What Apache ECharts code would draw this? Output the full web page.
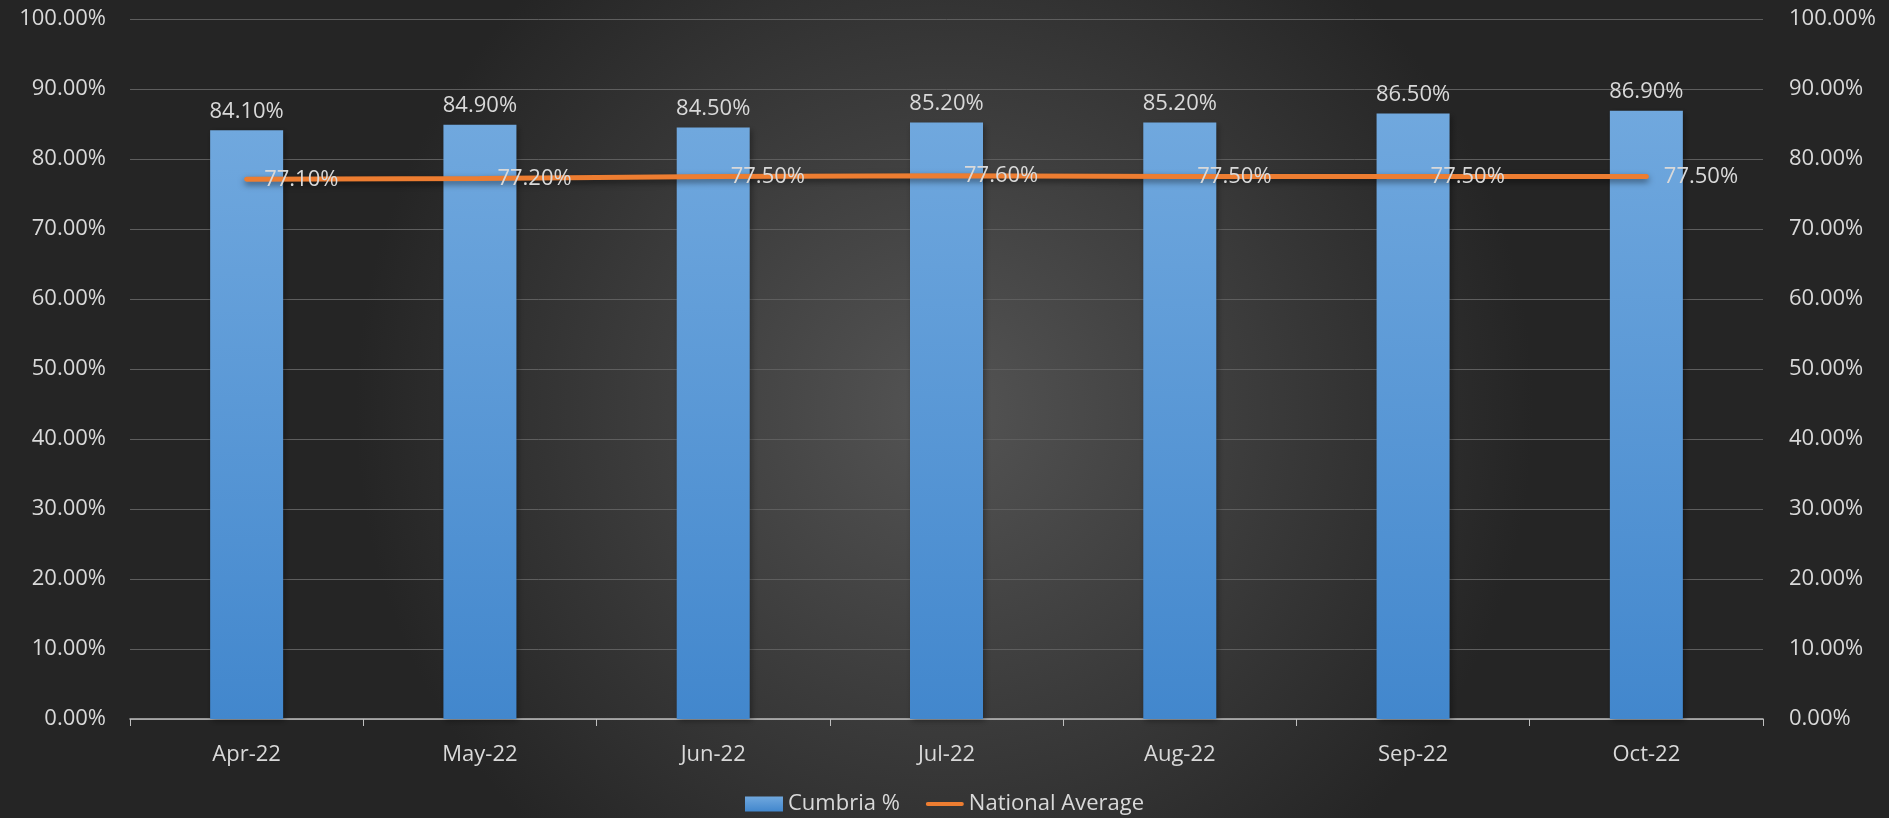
<!DOCTYPE html>
<html>
<head>
<meta charset="utf-8">
<script src="https://cdn.jsdelivr.net/npm/echarts@6/dist/echarts.min.js"></script>
<style>html,body{margin:0;padding:0;background:#2a2a2a;}#c{width:1889px;height:818px;}</style>
</head>
<body>
<div id="c"></div>
<script>
const categories = ['Apr-22','May-22','Jun-22','Jul-22','Aug-22','Sep-22','Oct-22'];
const cumbria = [84.1, 84.9, 84.5, 85.2, 85.2, 86.5, 86.9];
const national = [77.1, 77.2, 77.5, 77.6, 77.5, 77.5, 77.5];
const yTicks = [0, 10, 20, 30, 40, 50, 60, 70, 80, 90, 100];

const FONT = 'Open Sans';
const TXT = '#d9d9d9';
const FS = 22;
const pct = v => v.toFixed(2) + '%';

const chart = echarts.init(document.getElementById('c'), null, {renderer: 'canvas'});
chart.setOption({
  backgroundColor: new echarts.graphic.RadialGradient(0.5, 0.5, 0.72, [
    {offset: 0, color: '#545454'},
    {offset: 1, color: '#252525'}
  ]),
  textStyle: {fontFamily: FONT, color: TXT},
  grid: {left: 130, right: 126, top: 19, bottom: 99},
  legend: {
    bottom: 3,
    padding: 0,
    left: 'center',
    itemGap: 26,
    itemWidth: 38,
    itemHeight: 15,
    textStyle: {color: TXT, fontSize: FS, fontFamily: FONT},
    data: [
      {name: 'Cumbria %', icon: 'rect'},
      {name: 'National Average', icon: 'path://M2,0 L38,0 A2,2 0 0 1 38,4 L2,4 A2,2 0 0 1 2,0 Z',
        itemStyle: {color: '#ED7D31', opacity: 1}}
    ]
  },
  xAxis: {
    type: 'category',
    data: categories,
    axisLine: {lineStyle: {color: '#bfbfbf', width: 1.5}},
    axisTick: {show: true, length: 7, lineStyle: {color: '#bfbfbf'}},
    axisLabel: {color: TXT, fontSize: FS, margin: 25, fontFamily: FONT}
  },
  yAxis: [
    {
      type: 'value', min: 0, max: 100, interval: 10,
      axisLine: {show: false}, axisTick: {show: false},
      axisLabel: {color: TXT, fontSize: FS, margin: 24, fontFamily: FONT,
        formatter: v => yTicks.includes(v) ? pct(v) : ''},
      splitLine: {lineStyle: {color: '#5e5e5e', width: 1}}
    },
    {
      type: 'value', min: 0, max: 100, interval: 10, position: 'right',
      axisLine: {show: false}, axisTick: {show: false},
      axisLabel: {color: TXT, fontSize: FS, margin: 26, fontFamily: FONT,
        formatter: v => yTicks.includes(v) ? pct(v) : ''},
      splitLine: {show: false}
    }
  ],
  series: [
    {
      name: 'Cumbria %',
      type: 'bar',
      data: cumbria,
      barWidth: 73,
      itemStyle: {
        color: new echarts.graphic.LinearGradient(0, 0, 0, 1, [
          {offset: 0, color: '#70a8de'},
          {offset: 1, color: '#4287cd'}
        ]),
        shadowColor: 'rgba(0,0,0,0.35)', shadowBlur: 6, shadowOffsetX: 2, shadowOffsetY: 2
      },
      label: {show: true, position: 'top', distance: 8, color: TXT, fontSize: FS, fontFamily: FONT,
        formatter: p => pct(p.value)}
    },
    {
      name: 'National Average',
      type: 'line',
      data: national,
      symbol: 'circle',
      symbolSize: 3,
      showSymbol: true,
      itemStyle: {color: '#ED7D31'},
      lineStyle: {color: '#ED7D31', width: 5, cap: 'round',
        shadowColor: 'rgba(0,0,0,0.5)', shadowBlur: 6, shadowOffsetY: 3},
      label: {show: true, position: 'right', distance: 16, color: TXT, fontSize: FS, fontFamily: FONT,
        offset: [0, 2], formatter: p => pct(p.value)},
      labelLayout: {hideOverlap: false},
      z: 3
    }
  ]
});
</script>
</body>
</html>
